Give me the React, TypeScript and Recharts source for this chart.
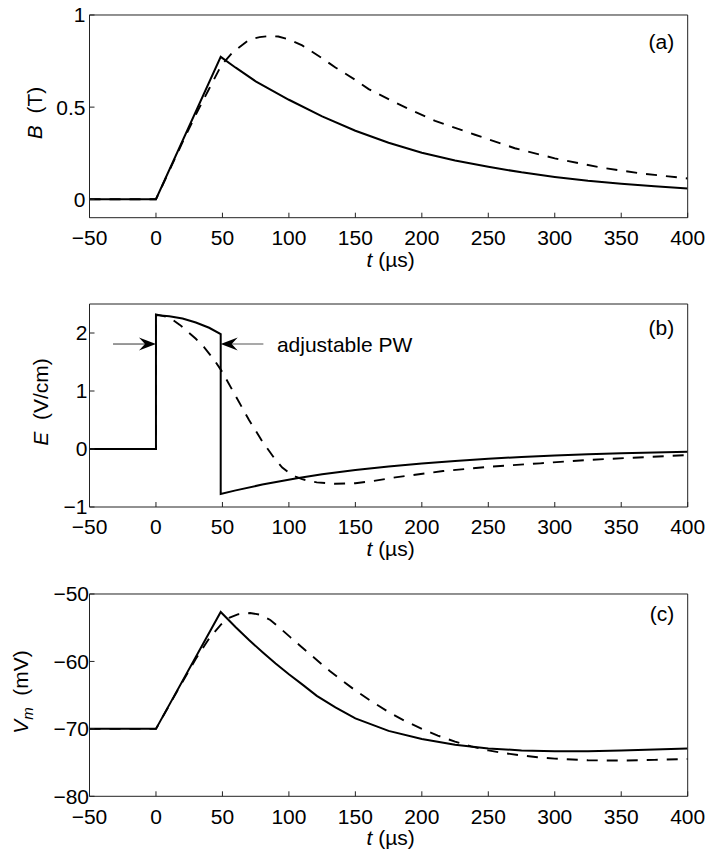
import React from 'react';
import { LineChart, Line, XAxis, YAxis, ReferenceLine } from 'recharts';

const FONT = "'Liberation Sans', Arial, Helvetica, sans-serif";
const INK = '#000';
const FRAME = '#222';

const TIME_DOMAIN: [number, number] = [-50, 400];
const TIME_TICKS = [-50, 0, 50, 100, 150, 200, 250, 300, 350, 400];

// (a) magnetic field B (T)
const bSolidT = [-50, 0, 48.7, 60, 75, 100, 125, 150, 175, 200, 225, 250, 275, 300, 325, 350, 375, 400];
const bSolidV = [0, 0, 0.773, 0.714, 0.64, 0.54, 0.45, 0.372, 0.307, 0.252, 0.21, 0.176, 0.146, 0.121, 0.1, 0.084, 0.07, 0.058];
const bDashT = [-50, 0, 10, 20, 30, 40, 49, 58, 70, 78, 86, 92, 100, 110, 125, 135, 150, 160, 180, 190, 210, 240, 270, 300, 335, 365, 400];
const bDashV = [0, 0, 0.155, 0.31, 0.46, 0.6, 0.725, 0.8, 0.865, 0.88, 0.886, 0.883, 0.868, 0.835, 0.765, 0.715, 0.648, 0.598, 0.525, 0.49, 0.425, 0.35, 0.277, 0.222, 0.172, 0.14, 0.113];
const B_TICKS = [0, 0.5, 1];

// (b) electric field E (V/cm)
const eSolidT = [-50, 0, 0, 10, 20, 30, 40, 48.7, 48.7, 60, 80, 106, 125, 150, 175, 200, 225, 250, 275, 300, 325, 350, 375, 400];
const eSolidV = [0, 0, 2.31, 2.29, 2.25, 2.18, 2.09, 1.98, -0.776, -0.713, -0.613, -0.505, -0.437, -0.362, -0.3, -0.248, -0.205, -0.168, -0.137, -0.112, -0.091, -0.075, -0.06, -0.048];
const eDashT = [-50, 0, 0, 10, 18, 30, 36, 43, 49, 52, 61, 70, 80, 90, 95, 100, 105, 110, 115, 121, 135, 150, 162, 180, 216, 251, 289, 324, 359, 400];
const eDashV = [0, 0, 2.32, 2.27, 2.14, 1.9, 1.76, 1.56, 1.36, 1.24, 0.87, 0.5, 0.13, -0.19, -0.32, -0.41, -0.475, -0.52, -0.55, -0.575, -0.6, -0.59, -0.557, -0.49, -0.38, -0.305, -0.247, -0.19, -0.15, -0.105];
const E_TICKS = [-1, 0, 1, 2];
const PW_Y = 1.81;
const PW_LEFT_FROM = -32.3;
const PW_LEFT_TO = 0;
const PW_RIGHT_FROM = 80.8;
const PW_RIGHT_TO = 48.7;

// (c) membrane potential Vm (mV)
const vSolidT = [-50, 0, 48.7, 60, 70, 80, 90, 100, 110, 121, 135, 150, 175, 200, 225, 250, 275, 300, 325, 350, 375, 400];
const vSolidV = [-70, -70, -52.67, -54.93, -56.83, -58.6, -60.3, -61.9, -63.4, -65.1, -66.8, -68.45, -70.3, -71.5, -72.35, -72.9, -73.2, -73.33, -73.33, -73.2, -73.05, -72.9];
const vDashT = [-50, 0, 10, 20, 30, 40, 49, 55, 62, 70.8, 78, 86, 93, 101, 108, 116, 124, 131, 139, 150, 162, 175, 187, 200, 212, 225, 237, 250, 262, 275, 287, 300, 325, 350, 375, 400];
const vDashV = [-70, -70, -66.5, -63.0, -59.6, -56.6, -54.5, -53.55, -53.0, -52.82, -53.05, -53.85, -55.0, -56.4, -57.6, -58.95, -60.3, -61.45, -62.7, -64.3, -65.9, -67.5, -68.8, -70.0, -71.0, -71.9, -72.6, -73.2, -73.6, -73.95, -74.2, -74.42, -74.66, -74.7, -74.6, -74.47];
const V_TICKS = [-80, -70, -60, -50];

type Pt = { t: number; v: number };
const zip = (ts: number[], vs: number[]): Pt[] => ts.map((t, i) => ({ t, v: vs[i] }));

const fmt = (v: number) => String(v).replace('-', '\u2212');

function XLabel(props: any) {
  const vb = props.viewBox ?? { x: 89.5, y: 218, width: 598 };
  return (
    <text x={vb.x + vb.width / 2 + 2} y={vb.y + 49} textAnchor="middle" fontFamily={FONT} fontSize={21} fill={INK}>
      <tspan fontStyle="italic">t</tspan>
      <tspan> (µs)</tspan>
    </text>
  );
}

function makeYLabel(baseX: number, parts: React.ReactNode) {
  return (props: any) => {
    const vb = props.viewBox ?? { y: 15 };
    const cy = vb.y + 98;
    return (
      <text
        x={baseX}
        y={cy}
        textAnchor="middle"
        transform={`rotate(-90, ${baseX}, ${cy})`}
        fontFamily={FONT}
        fontSize={21}
        fill={INK}
      >
        {parts}
      </text>
    );
  };
}

// top axis box starts 1px above the plot, so offsets are from there
function makeLetter(letter: string, dy: number) {
  return (props: any) => {
    const vb = props.viewBox ?? { x: 89.5, y: 14, width: 598 };
    return (
      <text x={vb.x + vb.width - 13.5} y={vb.y + 1 + dy} textAnchor="end" fontFamily={FONT} fontSize={21} fill={INK}>
        {letter}
      </text>
    );
  };
}

function arrowShape(note?: string) {
  return (p: any) => {
    const { x1, y1, x2, y2 } = p;
    const len = Math.hypot(x2 - x1, y2 - y1) || 1;
    const ux = (x2 - x1) / len;
    const uy = (y2 - y1) / len;
    const nx = -uy;
    const ny = ux;
    const L = 17;
    const W = 6.5;
    const N = 11;
    const bx = x2 - L * ux;
    const by = y2 - L * uy;
    const head = `M${x2},${y2} L${bx + W * nx},${by + W * ny} L${x2 - N * ux},${y2 - N * uy} L${bx - W * nx},${by - W * ny} Z`;
    return (
      <g>
        <line x1={x1} y1={y1} x2={x2 - N * ux} y2={y2 - N * uy} stroke="#555" strokeWidth={1.2} />
        <path d={head} fill="#000" />
        {note && (
          <text x={x1 + 13.5} y={y1 + 7.7} fontFamily={FONT} fontSize={21} fill={INK}>
            {note}
          </text>
        )}
      </g>
    );
  };
}

type PanelProps = {
  top: number;
  plotH: number;
  solid: Pt[];
  dashed: Pt[];
  domain: [number, number];
  ticks: number[];
  yTickMargin: number;
  yLabel: (props: any) => React.ReactElement;
  letter: (props: any) => React.ReactElement;
  children?: React.ReactNode;
};

const PLOT_TOP = 15;
const X_AXIS_H = 62;

function Panel({ top, plotH, solid, dashed, domain, ticks, yTickMargin, yLabel, letter, children }: PanelProps) {
  const axisLine = { stroke: FRAME, strokeWidth: 1 };
  return (
    <div style={{ position: 'absolute', left: 0, top }}>
      <LineChart
        width={714}
        height={PLOT_TOP + plotH + X_AXIS_H}
        margin={{ top: PLOT_TOP - 1, right: 25.3, bottom: 0, left: 0 }}
      >
        <XAxis
          dataKey="t"
          type="number"
          domain={TIME_DOMAIN}
          ticks={TIME_TICKS}
          allowDataOverflow
          height={X_AXIS_H}
          tickSize={-5}
          tickMargin={17.5}
          tickFormatter={fmt}
          tick={{ fill: INK, fontSize: 21, fontFamily: FONT }}
          axisLine={axisLine}
          tickLine={axisLine}
          label={{ content: XLabel }}
        />
        <XAxis
          xAxisId="top"
          orientation="top"
          dataKey="t"
          type="number"
          domain={TIME_DOMAIN}
          ticks={TIME_TICKS}
          allowDataOverflow
          height={1}
          tickSize={-5}
          tick={false}
          axisLine={axisLine}
          tickLine={axisLine}
          label={{ content: letter }}
        />
        <YAxis
          type="number"
          domain={domain}
          ticks={ticks}
          allowDataOverflow
          width={89.5}
          tickSize={-5}
          tickMargin={yTickMargin}
          tickFormatter={fmt}
          tick={{ fill: INK, fontSize: 21, fontFamily: FONT }}
          axisLine={axisLine}
          tickLine={axisLine}
          label={{ content: yLabel }}
        />
        <YAxis
          yAxisId="right"
          orientation="right"
          type="number"
          domain={domain}
          ticks={ticks}
          allowDataOverflow
          width={1}
          tickSize={-5}
          tick={false}
          axisLine={axisLine}
          tickLine={axisLine}
        />
        <Line
          data={dashed}
          dataKey="v"
          type="linear"
          stroke={INK}
          strokeWidth={1.9}
          strokeDasharray="11 9"
          dot={false}
          activeDot={false}
          isAnimationActive={false}
        />
        <Line
          data={solid}
          dataKey="v"
          type="linear"
          stroke={INK}
          strokeWidth={2}
          dot={false}
          activeDot={false}
          isAnimationActive={false}
        />
        {children}
      </LineChart>
    </div>
  );
}

export default function App() {
  return (
    <div style={{ position: 'absolute', left: 0, top: 0, width: 714, height: 860, background: '#fff' }}>
      <Panel
        top={0}
        plotH={202.7}
        solid={zip(bSolidT, bSolidV)}
        dashed={zip(bDashT, bDashV)}
        domain={[-0.1, 1]}
        ticks={B_TICKS}
        yTickMargin={9}
        yLabel={makeYLabel(41.7, [
          <tspan key="b" fontStyle="italic">B</tspan>,
          <tspan key="u">{'\u00a0\u00a0(T)'}</tspan>,
        ])}
        letter={makeLetter('(a)', 34)}
      />
      <Panel
        top={289.3}
        plotH={203}
        solid={zip(eSolidT, eSolidV)}
        dashed={zip(eDashT, eDashV)}
        domain={[-1, 2.5]}
        ticks={E_TICKS}
        yTickMargin={7}
        yLabel={makeYLabel(48.3, [
          <tspan key="e" fontStyle="italic">E</tspan>,
          <tspan key="u">{'\u00a0\u00a0(V/cm)'}</tspan>,
        ])}
        letter={makeLetter('(b)', 31.3)}
      >
        <ReferenceLine
          segment={[{ x: PW_LEFT_FROM, y: PW_Y }, { x: PW_LEFT_TO, y: PW_Y }]}
          shape={arrowShape()}
        />
        <ReferenceLine
          segment={[{ x: PW_RIGHT_FROM, y: PW_Y }, { x: PW_RIGHT_TO, y: PW_Y }]}
          shape={arrowShape('adjustable PW')}
        />
      </Panel>
      <Panel
        top={578.7}
        plotH={202.3}
        solid={zip(vSolidT, vSolidV)}
        dashed={zip(vDashT, vDashV)}
        domain={[-80, -50]}
        ticks={V_TICKS}
        yTickMargin={5.5}
        yLabel={makeYLabel(28.3, [
          <tspan key="v" fontStyle="italic">V</tspan>,
          <tspan key="m" fontStyle="italic" fontSize={15} dy={5}>m</tspan>,
          <tspan key="u" dy={-5}>{'\u00a0\u00a0(mV)'}</tspan>,
        ])}
        letter={makeLetter('(c)', 27)}
      />
    </div>
  );
}
